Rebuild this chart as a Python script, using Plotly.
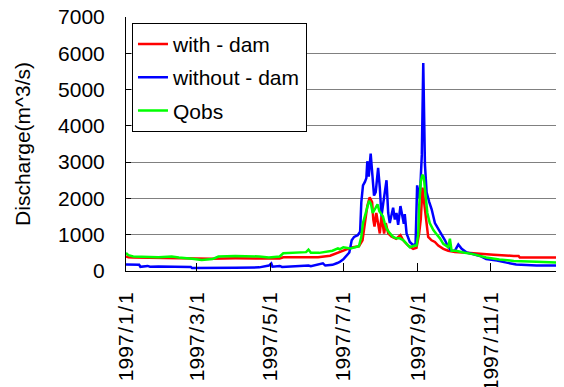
import pandas as pd
import plotly.graph_objects as go

# ---- data (day of year offset from 1997-01-01, discharge m^3/s) ----
with_dam_day = [0, 2, 6, 27, 38, 55, 71, 91, 111, 128, 131, 160, 170, 181, 188, 194, 197, 199,
                201, 203, 205, 206, 207, 208.5, 210, 211.4, 212.8, 214, 215, 216.4, 218.4, 221,
                225, 228.6, 230.9, 235, 239.2, 242, 244.2, 245.5, 247, 248.3, 250.4, 251.7,
                254.5, 257.3, 260.1, 264.3, 268.4, 274, 284, 295, 306, 323, 327, 328, 364]
with_dam_q = [400, 380, 370, 360, 340, 330, 340, 350, 340, 345, 380, 380, 420, 560, 650, 680, 845, 1320,
              1790, 2030, 1900, 1415, 1225, 1600, 1300, 1035, 1510, 1250, 1035, 1320, 1035, 950,
              890, 985, 845, 700, 610, 640, 1035, 1415, 2300, 1900, 1320, 940,
              845, 800, 700, 610, 560, 520, 500, 465, 450, 415, 415, 370, 370]

without_dam_day = [0, 11, 12, 18, 20, 27, 54, 55, 91, 111, 119, 121, 122, 128, 130, 142, 152, 154, 164,
                   166, 172, 176, 178, 181, 186, 188, 190, 193, 195, 196, 197.4, 199, 200.2, 201,
                   202.2, 203.8, 205.2, 206.6, 208, 210, 211.4, 212.8, 214.2, 216.4, 217, 218.4,
                   219.7, 222.5, 223.9, 225.3, 226.7, 228.6, 231.4, 232.2, 233.7, 236.4, 239.2,
                   241.2, 242.5, 244.2, 245.3, 246.4, 247.6, 249, 250.4, 252.6, 254.6, 257.3,
                   260.1, 262.9, 265.7, 268.4, 271.2, 274, 276.8, 279.6, 283.8, 289.3, 294.9,
                   300, 309, 317, 325, 342, 364]
without_dam_q = [180, 170, 115, 140, 120, 125, 110, 85, 90, 100, 150, 210, 120, 140, 110, 130, 150, 130, 210,
                 150, 170, 220, 250, 320, 510, 845, 940, 985, 1080, 1890, 2360, 2455, 2560, 3025,
                 2600, 3235, 2560, 2080, 2170, 2845, 2300, 1510, 1850, 2455, 2500, 1600,
                 1320, 1745, 1420, 1600, 1270, 1790, 1300, 1565, 1035, 800, 710,
                 750, 2360, 2000, 2400, 3200, 5730, 2930, 2170, 1900, 1700, 1320,
                 1140, 1000, 845, 655, 560, 560, 730, 610, 510, 465, 415,
                 330, 290, 230, 180, 150, 150]

qobs_day = [0, 2, 6, 27, 38, 44, 55, 63, 72, 77, 91, 111, 119, 128, 131, 142, 150, 152, 154, 161, 167,
            172, 176.5, 178, 181, 187, 194, 196, 197.4, 199, 201, 202.5, 204, 205.5, 208, 209.5,
            211, 214, 215.5, 217, 219.5, 222.5, 225, 228, 231, 233.7, 236.4, 240.6, 242, 243.4,
            244.2, 245.5, 246.8, 248, 249.5, 251, 253, 256, 259, 261.5, 264.3, 268.4, 269.8,
            271.2, 275, 281, 289, 300, 311, 323, 342, 364]
qobs_q = [495, 435, 400, 380, 400, 370, 340, 305, 330, 400, 415, 400, 370, 400, 490, 510, 520, 590, 500, 500, 530,
          560, 625, 600, 655, 620, 680, 940, 1320, 1510, 1745, 1935, 1850, 1600, 1745, 1840,
          1650, 1510, 1320, 1175, 1050, 940, 900, 900, 850, 750, 655, 700, 700, 1000,
          1790, 2455, 2650, 2600, 2170, 1600, 1320, 1130, 1000, 900, 750, 655, 890,
          560, 560, 510, 465, 370, 320, 275, 255, 230]

tick_dates = ["1997-01-01", "1997-03-01", "1997-05-01", "1997-07-01", "1997-09-01", "1997-11-01"]
tick_labels = ["1997\u200a/\u200a1\u200a/\u200a1", "1997\u200a/\u200a3\u200a/\u200a1",
               "1997\u200a/\u200a5\u200a/\u200a1", "1997\u200a/\u200a7\u200a/\u200a1",
               "1997\u200a/\u200a9\u200a/\u200a1", "1997\u200a/\u200a11\u200a/\u200a1"]

series_names = ["with - dam", "without - dam", "Qobs"]
series_colors = ["#ff0000", "#0000ff", "#00ff00"]

start = pd.Timestamp("1997-01-01")


def to_dates(days):
    return [start + pd.Timedelta(hours=24 * d) for d in days]


FONT = "Liberation Sans, Arial, sans-serif"

fig = go.Figure()
for i, (days, vals) in enumerate([(with_dam_day, with_dam_q),
                                  (without_dam_day, without_dam_q),
                                  (qobs_day, qobs_q)]):
    fig.add_trace(go.Scatter(x=to_dates(days), y=vals, mode="lines",
                             name=series_names[i], legendgroup=f"g{i}",
                             line=dict(color=series_colors[i], width=2.5)))

# page body has an 8px default margin, so the figure is sized to fit the window after it
fig.update_layout(
    width=556, height=379,
    margin=dict(l=118, r=1, t=9, b=116, autoexpand=False),
    paper_bgcolor="white", plot_bgcolor="white",
    font=dict(family=FONT, size=21, color="black"),
    showlegend=True,
    legend=dict(x=0.0137, y=0.977, xanchor="left", yanchor="top",
                bgcolor="white", bordercolor="black", borderwidth=1,
                font=dict(size=21), traceorder="grouped", tracegroupgap=3),
    xaxis=dict(range=["1997-01-01", "1997-12-31"], tickmode="array",
               tickvals=tick_dates, ticktext=tick_labels, tickangle=-90,
               ticks="inside", ticklen=8, tickcolor="black",
               showline=True, linecolor="black", linewidth=1,
               showgrid=False, zeroline=False, ticklabelstandoff=12,
               ticklabeloverflow="allow", tickfont=dict(size=21)),
    yaxis=dict(range=[0, 7000], dtick=1000, tick0=0,
               ticks="inside", ticklen=5, tickcolor="black",
               showline=True, linecolor="black", linewidth=1,
               showgrid=True, gridcolor="#808080", gridwidth=1,
               zeroline=False, ticklabelstandoff=16, ticklabeloverflow="allow",
               tickfont=dict(size=21),
               title=dict(text="Discharge(m^3/s)", font=dict(size=21), standoff=21)),
)
fig.add_shape(type="line", xref="paper", yref="paper", x0=1, x1=1, y0=0, y1=1,
              line=dict(color="#808080", width=1), layer="above")

fig.write_html("out.html")
